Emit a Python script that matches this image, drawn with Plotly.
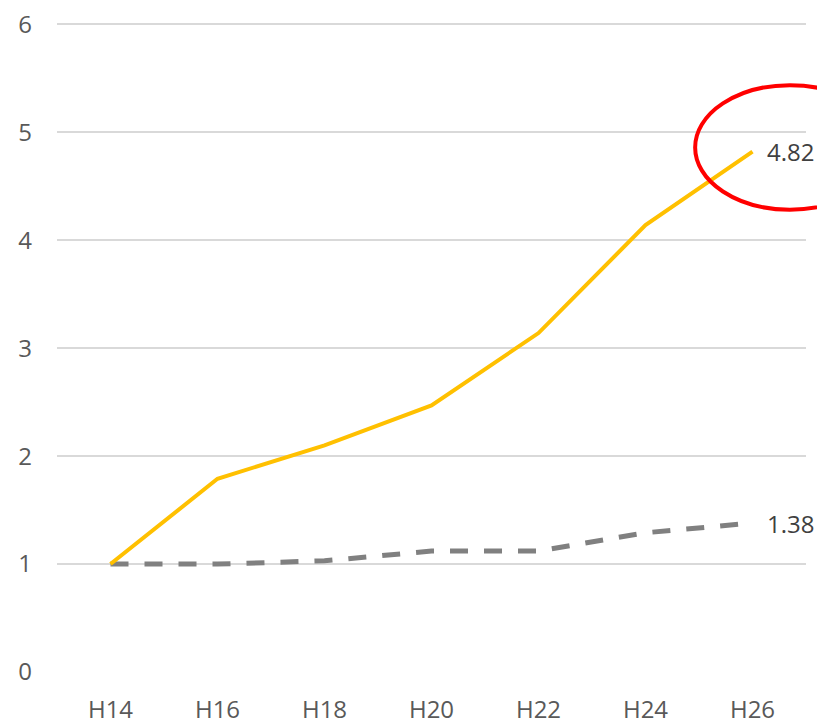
import plotly.graph_objects as go

categories = ["H14", "H16", "H18", "H20", "H22", "H24", "H26"]
series_orange = [1.0, 1.79, 2.10, 2.47, 3.14, 4.14, 4.82]
series_gray = [1.0, 1.0, 1.03, 1.12, 1.12, 1.29, 1.38]
y_ticks = [0, 1, 2, 3, 4, 5, 6]

fig = go.Figure()
fig.add_trace(go.Scatter(
    x=categories, y=series_gray, mode="lines",
    line=dict(color="#808080", width=5, dash="18px,16px"),
    showlegend=False, hoverinfo="skip"))
fig.add_trace(go.Scatter(
    x=categories, y=series_orange, mode="lines",
    line=dict(color="#FFC000", width=4),
    showlegend=False, hoverinfo="skip"))

for vals in (series_orange, series_gray):
    fig.add_annotation(x=categories[-1], y=vals[-1], text=f"{vals[-1]:.2f}",
                       showarrow=False, xanchor="left", yanchor="middle",
                       xshift=12, font=dict(family="Open Sans", size=24, color="#404040"))

# red highlight ellipse around the final value
fig.add_shape(type="circle", xref="paper", yref="paper",
              x0=0.852, x1=1.105, y0=0.709, y1=0.900,
              line=dict(color="#FF0000", width=4), layer="above")

fig.update_layout(
    width=817, height=716,
    margin=dict(l=49, r=19, t=12, b=52),
    plot_bgcolor="white", paper_bgcolor="white",
    font=dict(family="Open Sans", size=24, color="#595959"),
    xaxis=dict(type="category", range=[-0.5, 6.5], showgrid=False, showline=False,
               zeroline=False, ticks="", ticklabelstandoff=21, automargin=False,
               ticklabeloverflow="allow",
               tickfont=dict(size=24, color="#595959")),
    yaxis=dict(range=[0, 6.04], tickvals=y_ticks, showgrid=True, gridcolor="#D9D9D9",
               gridwidth=2, zeroline=False, showline=False, ticks="", automargin=False,
               ticklabeloverflow="allow",
               ticklabelstandoff=24, tickfont=dict(size=24, color="#595959")),
)

fig.write_html("out.html")
